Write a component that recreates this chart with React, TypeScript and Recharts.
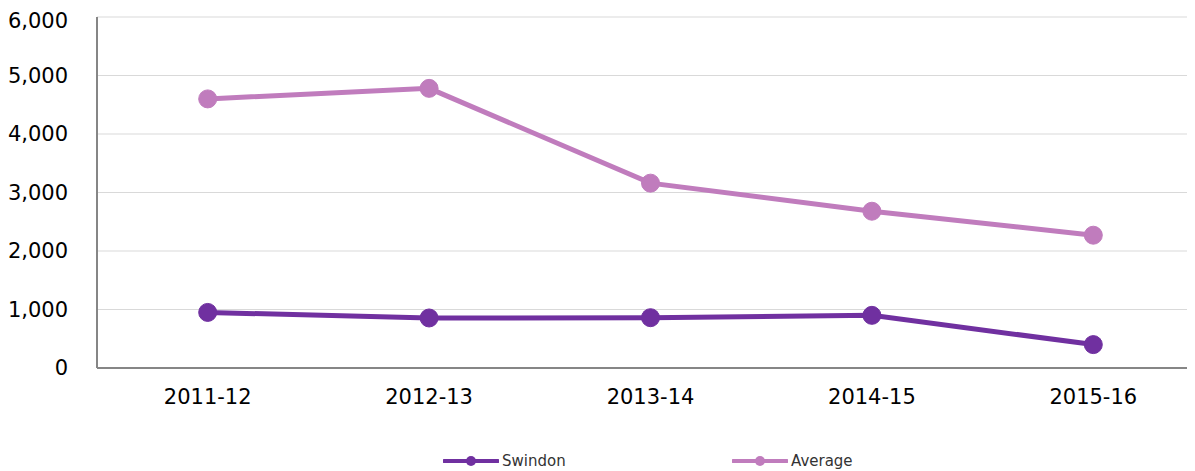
import { LineChart, Line, XAxis, YAxis, CartesianGrid, Legend } from 'recharts'

const years = ['2011-12', '2012-13', '2013-14', '2014-15', '2015-16']
const swindon = [950, 855, 860, 900, 400]
const average = [4600, 4780, 3160, 2680, 2270]
const yTicks = [0, 1000, 2000, 3000, 4000, 5000, 6000]

const data = years.map((year, i) => ({ year, Swindon: swindon[i], Average: average[i] }))

const SWINDON = '#7030A0'
const AVERAGE = '#C07CBD'

const fmt = (v: number) => v.toLocaleString('en-GB')

function LegendContent() {
    const items = [
        { name: 'Swindon', color: SWINDON },
        { name: 'Average', color: AVERAGE },
    ]
    return (
        <div style={{ display: 'flex', fontFamily: 'DejaVu Sans', fontSize: 15, color: '#333', height: 24, alignItems: 'center' }}>
            {items.map((item) => (
                <div key={item.name} style={{ display: 'flex', alignItems: 'center', width: 289 }}>
                    <svg width={56} height={12}>
                        <line x1={1} y1={6} x2={55} y2={6} stroke={item.color} strokeWidth={4} strokeLinecap="round" />
                        <circle cx={28} cy={6} r={5} fill={item.color} />
                    </svg>
                    <span style={{ marginLeft: 3 }}>{item.name}</span>
                </div>
            ))}
        </div>
    )
}

export default function App() {
    return (
        <div style={{ width: 1187, height: 463, overflow: 'hidden' }}>
            <LineChart width={1196} height={463} data={data} margin={{ top: 9, right: 0, left: 0, bottom: 0 }}>
                <CartesianGrid vertical={false} stroke="#D9D9D9" strokeWidth={1} />
                <XAxis
                    dataKey="year"
                    scale="band"
                    height={79}
                    tickLine={false}
                    tickSize={0}
                    tickMargin={21}
                    axisLine={{ stroke: '#868686', strokeWidth: 2 }}
                    tick={{ fill: '#000', fontSize: 21, fontFamily: 'DejaVu Sans' }}
                />
                <YAxis
                    width={89}
                    domain={[0, 6000]}
                    ticks={yTicks}
                    tickFormatter={fmt}
                    tickLine={false}
                    tickSize={0}
                    tickMargin={29}
                    axisLine={{ stroke: '#868686', strokeWidth: 2 }}
                    tick={{ fill: '#000', fontSize: 21, fontFamily: 'DejaVu Sans' }}
                />
                <Legend verticalAlign="bottom" height={24} content={<LegendContent />} wrapperStyle={{ left: 435, width: 600, bottom: -2 }} />
                <Line dataKey="Swindon" stroke={SWINDON} strokeWidth={5} dot={{ r: 9, fill: SWINDON, stroke: SWINDON, strokeWidth: 1 }} isAnimationActive={false} />
                <Line dataKey="Average" stroke={AVERAGE} strokeWidth={5} dot={{ r: 9, fill: AVERAGE, stroke: AVERAGE, strokeWidth: 1 }} isAnimationActive={false} />
            </LineChart>
        </div>
    )
}
